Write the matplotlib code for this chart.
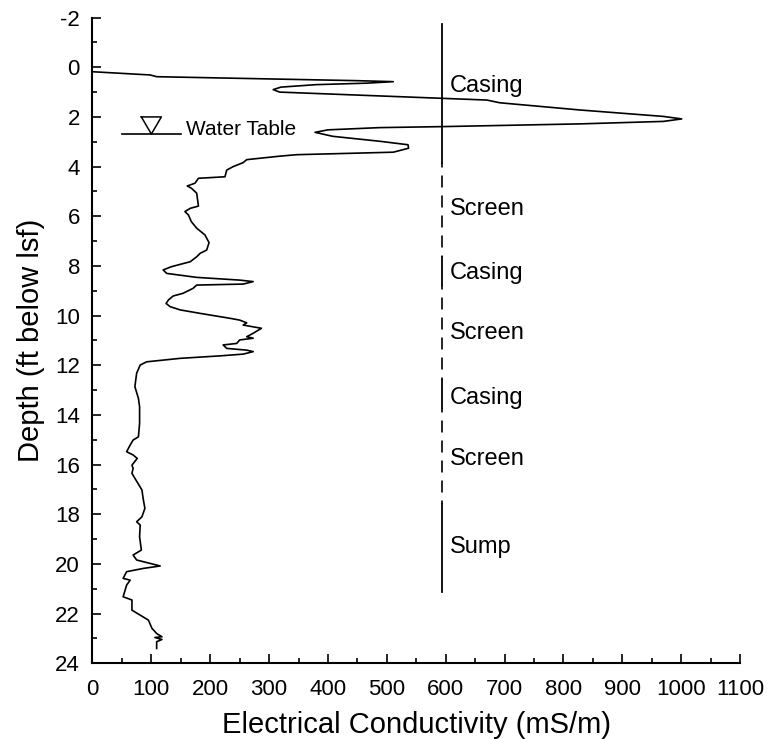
import matplotlib.pyplot as plt
from matplotlib.ticker import MultipleLocator

plt.rcParams['font.family'] = ['Liberation Sans', 'DejaVu Sans']
plt.rcParams['axes.unicode_minus'] = False

# EC log traced down the borehole: conductivity (mS/m) against depth (ft below lsf)
ec_mSm = [0, 60, 98, 109, 300, 450, 511, 466, 380, 320, 307, 318, 450, 596, 670,
          692, 828, 970, 1001, 970, 828, 594, 488, 400, 378, 408, 488, 536, 537,
          511, 347, 318, 262, 256, 239, 228, 225, 180, 174, 161, 168, 177, 180,
          166, 157, 163, 168, 177, 191, 198, 194, 183, 177, 166, 134, 120, 126,
          177, 250, 273, 256, 177, 171, 154, 137, 129, 125, 132, 149, 183, 234,
          250, 262, 256, 287, 273, 262, 273, 250, 245, 222, 228, 262, 273, 256,
          217, 149, 92, 81, 75, 72, 78, 80, 80, 78, 69, 64, 58, 69, 76, 67, 69,
          67, 72, 84, 86, 89, 84, 75, 81, 80, 83, 69, 75, 115, 86, 58, 52, 64,
          58, 52, 67, 67, 81, 95, 101, 109, 118, 106, 118, 109, 109]
depth_ft = [0.18, 0.26, 0.31, 0.38, 0.47, 0.54, 0.58, 0.64, 0.70, 0.80, 0.90,
            1.00, 1.12, 1.25, 1.32, 1.43, 1.72, 1.98, 2.08, 2.18, 2.28, 2.39,
            2.43, 2.52, 2.62, 2.78, 2.98, 3.12, 3.26, 3.42, 3.52, 3.58, 3.72,
            3.84, 4.00, 4.14, 4.41, 4.47, 4.67, 4.78, 4.87, 5.07, 5.59, 5.68,
            5.81, 5.95, 6.22, 6.48, 6.75, 7.06, 7.36, 7.49, 7.63, 7.83, 8.03,
            8.16, 8.30, 8.46, 8.57, 8.63, 8.73, 8.77, 8.90, 9.10, 9.21, 9.37,
            9.51, 9.64, 9.77, 9.91, 10.11, 10.18, 10.29, 10.38, 10.51, 10.71,
            10.85, 10.91, 10.98, 11.12, 11.18, 11.32, 11.39, 11.45, 11.55,
            11.62, 11.72, 11.86, 11.99, 12.32, 12.86, 13.33, 13.67, 14.34,
            14.88, 15.01, 15.21, 15.48, 15.61, 15.75, 16.02, 16.15, 16.35,
            16.55, 17.02, 17.36, 17.76, 18.10, 18.30, 18.43, 18.90, 19.44,
            19.64, 19.84, 20.08, 20.18, 20.31, 20.58, 20.65, 20.85, 21.32,
            21.45, 21.86, 22.06, 22.26, 22.59, 22.80, 22.93, 22.96, 23.04,
            23.13, 23.40]

# well construction column
well_x = 594
seg_top = [-1.75, 3.85, 7.63, 8.77, 12.59, 13.73, 17.57]
seg_bot = [3.85, 7.63, 8.77, 12.59, 13.73, 17.57, 21.12]
seg_name = ['Casing', 'Screen', 'Casing', 'Screen', 'Casing', 'Screen', 'Sump']
label_depth = [0.98, 5.95, 8.54, 10.95, 13.57, 16.02, 19.56]

# water table
wt_depth = 2.69

fig = plt.figure(figsize=(7.76, 7.39), dpi=100)
ax = fig.add_axes([0.1192, 0.1024, 0.8344, 0.8738])

ax.plot(ec_mSm, depth_ft, color='k', lw=1.2)

for top, bot, name, ld in zip(seg_top, seg_bot, seg_name, label_depth):
    if name == 'Screen':
        ax.plot([well_x, well_x], [top, bot], color='k', lw=1.2,
                linestyle=(4.5, (7.2, 4.8)))
    else:
        ax.plot([well_x, well_x], [top, bot], color='k', lw=1.3)
    ax.text(607, ld, name, fontsize=17, va='baseline', ha='left')

# water table symbol
ax.plot([50, 150], [wt_depth, wt_depth], color='k', lw=1.2)
ax.plot([83, 117, 100, 83], [2.0, 2.0, wt_depth, 2.0], color='k', lw=1.1)
ax.text(159, 2.73, 'Water Table', fontsize=15, va='baseline', ha='left')

ax.set_xlim(0, 1100)
ax.set_ylim(24, -2)
ax.spines['top'].set_visible(False)
ax.spines['right'].set_visible(False)
ax.spines['left'].set_linewidth(1.5)
ax.spines['bottom'].set_linewidth(1.5)

ax.xaxis.set_major_locator(MultipleLocator(100))
ax.xaxis.set_minor_locator(MultipleLocator(50))
ax.yaxis.set_major_locator(MultipleLocator(2))
ax.yaxis.set_minor_locator(MultipleLocator(1))
ax.tick_params(which='major', direction='in', length=6.5, width=1.2, labelsize=16)
ax.tick_params(which='minor', direction='in', length=3.6, width=1.2)
ax.tick_params(axis='x', pad=11)
ax.tick_params(axis='y', pad=9)

ax.set_xlabel('Electrical Conductivity (mS/m)', fontsize=21, labelpad=8)
ax.set_ylabel('Depth (ft below lsf)', fontsize=21, labelpad=7)

fig.savefig('out.png', dpi=100)
